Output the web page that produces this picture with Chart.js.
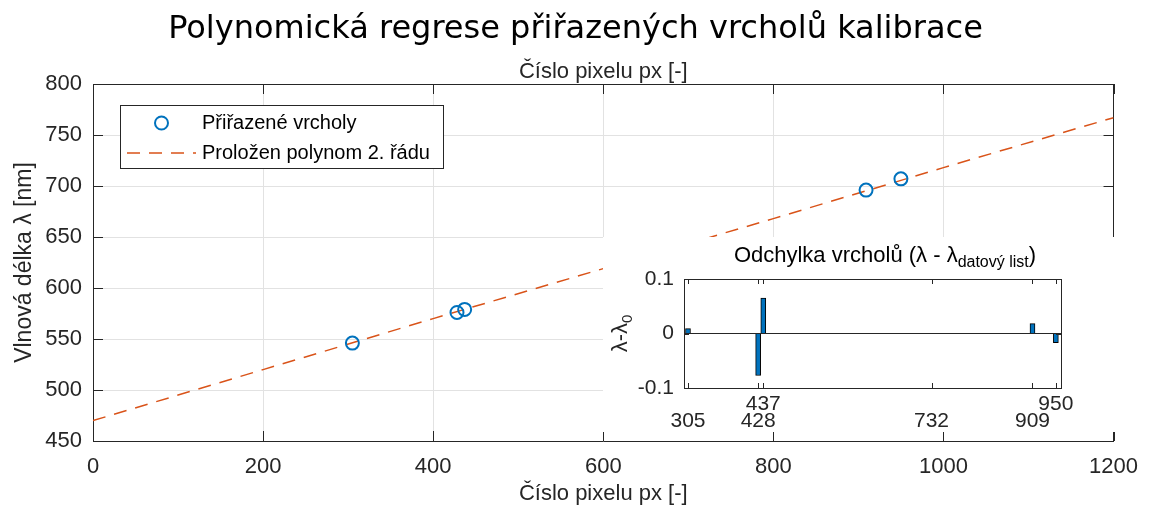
<!DOCTYPE html>
<html lang="cs">
<head>
<meta charset="utf-8">
<title>Polynomická regrese přiřazených vrcholů kalibrace</title>
<script src="https://cdn.jsdelivr.net/npm/chart.js@4.4.1/dist/chart.umd.min.js"></script>
<style>
  html, body { margin: 0; padding: 0; background: #fff; }
  #obal { position: relative; width: 1151px; height: 512px; overflow: hidden; }
  #graf { position: absolute; left: 0; top: 0; }
  #vlozeny { position: absolute; left: 603px; top: 237px; }
</style>
</head>
<body>
<div id="obal">
  <canvas id="graf" width="1151" height="512"></canvas>
  <canvas id="vlozeny" width="512" height="195"></canvas>
</div>
<script>
// Přiřazené vrcholy (pixel -> vlnová délka)
const peakPx = [305, 428, 437, 909, 950];
const peakNm = [546, 576, 579, 696, 707];

// Proložená křivka
const fitPx = [0, 200, 400, 600, 800, 1000, 1200];
const fitNm = [470, 520, 570, 619, 668, 718, 767];

// Odchylka vrcholů (lambda - lambda datový list)
const odchylka = [0.009, -0.077, 0.065, 0.018, -0.017];

// Popisky osy vloženého grafu
const insetTicks = [305, 428, 437, 732, 909, 950];
const insetTopRow = [437, 950];
const insetYTicks = [-0.1, 0, 0.1];

const FONT = '"Liberation Sans", Arial, Helvetica, sans-serif';
const AXIS = '#262626';
const MODRA = '#0072BD';
const ORANZ = '#D95319';
const MRIZKA = '#e2e2e2';

Chart.defaults.font.family = FONT;
Chart.defaults.color = AXIS;

// Dovnitř směřující značky jako v MATLABu
function drawInnerTicks(ctx, area, xs, ys, len) {
    ctx.beginPath();
    xs.ticks.forEach(t => {
        const px = Math.round(xs.getPixelForValue(t.value)) + 0.5;
        ctx.moveTo(px, area.bottom); ctx.lineTo(px, area.bottom - len);
        ctx.moveTo(px, area.top); ctx.lineTo(px, area.top + len);
    });
    ys.ticks.forEach(t => {
        const py = Math.round(ys.getPixelForValue(t.value)) + 0.5;
        ctx.moveTo(area.left, py); ctx.lineTo(area.left + len, py);
        ctx.moveTo(area.right, py); ctx.lineTo(area.right - len, py);
    });
    ctx.stroke();
}

const hlavniPlugin = {
    id: 'hlavniDoplnky',
    afterDraw(chart) {
        const ctx = chart.ctx;
        const a = chart.chartArea;
        ctx.save();
        ctx.strokeStyle = AXIS;
        ctx.lineWidth = 1;
        drawInnerTicks(ctx, a, chart.scales.x, chart.scales.y, 10);

        // legenda
        ctx.fillStyle = '#fff';
        ctx.fillRect(120.5, 105.5, 323, 63);
        ctx.strokeStyle = AXIS;
        ctx.strokeRect(120.5, 105.5, 323, 63);

        ctx.beginPath();
        ctx.strokeStyle = MODRA;
        ctx.lineWidth = 2;
        ctx.arc(161.5, 123, 6.5, 0, Math.PI * 2);
        ctx.stroke();

        ctx.beginPath();
        ctx.strokeStyle = ORANZ;
        ctx.lineWidth = 1.5;
        ctx.setLineDash([13, 9]);
        ctx.moveTo(127, 153);
        ctx.lineTo(196, 153);
        ctx.stroke();
        ctx.setLineDash([]);

        ctx.fillStyle = '#000';
        ctx.font = '20px ' + FONT;
        ctx.textBaseline = 'middle';
        ctx.textAlign = 'left';
        ctx.fillText(chart.data.datasets[0].label, 202, 123);
        ctx.fillText(chart.data.datasets[1].label, 202, 153);
        ctx.restore();
    }
};

const vlozenyPlugin = {
    id: 'vlozenyDoplnky',
    beforeDraw(chart) {
        const ctx = chart.ctx;
        ctx.save();
        ctx.fillStyle = '#fff';
        ctx.fillRect(0, 0, chart.width, chart.height);
        ctx.restore();
    },
    afterDraw(chart) {
        const ctx = chart.ctx;
        const a = chart.chartArea;
        ctx.save();
        ctx.strokeStyle = AXIS;
        ctx.lineWidth = 1;
        ctx.strokeRect(Math.round(a.left) + 0.5, Math.round(a.top) + 0.5,
            Math.round(a.right - a.left), Math.round(a.bottom - a.top));
        drawInnerTicks(ctx, a, chart.scales.x, chart.scales.y, 5);

        // nadpis s dolním indexem
        ctx.fillStyle = '#000';
        ctx.textBaseline = 'alphabetic';
        ctx.textAlign = 'left';
        const hlavni = 'Odchylka vrcholů (λ - λ';
        const index = 'datový list';
        const konec = ')';
        ctx.font = '22px ' + FONT;
        const w1 = ctx.measureText(hlavni).width;
        const w3 = ctx.measureText(konec).width;
        ctx.font = '16px ' + FONT;
        const w2 = ctx.measureText(index).width;
        let x = 282 - (w1 + w2 + w3) / 2;
        ctx.font = '22px ' + FONT;
        ctx.fillText(hlavni, x, 25);
        ctx.font = '16px ' + FONT;
        ctx.fillText(index, x + w1, 30);
        ctx.font = '22px ' + FONT;
        ctx.fillText(konec, x + w1 + w2, 25);

        // popisek osy y: λ-λ0
        ctx.translate(17, (a.top + a.bottom) / 2);
        ctx.rotate(-Math.PI / 2);
        ctx.fillStyle = AXIS;
        ctx.font = '22px ' + FONT;
        const l1 = 'λ-λ';
        const lw1 = ctx.measureText(l1).width;
        ctx.font = '15px ' + FONT;
        const lw2 = ctx.measureText('0').width;
        const lx = -(lw1 + lw2) / 2;
        ctx.font = '22px ' + FONT;
        ctx.fillText(l1, lx, 7);
        ctx.font = '15px ' + FONT;
        ctx.fillText('0', lx + lw1, 12);
        ctx.restore();
    }
};

const hlavniGraf = new Chart(document.getElementById('graf'), {
    type: 'scatter',
    data: {
        datasets: [
            {
                label: 'Přiřazené vrcholy',
                data: peakPx.map((x, i) => ({ x: x, y: peakNm[i] })),
                xAxisID: 'x', yAxisID: 'y',
                pointStyle: 'circle',
                pointRadius: 6.5,
                pointBorderWidth: 2,
                borderColor: MODRA,
                backgroundColor: 'rgba(0,0,0,0)',
                order: 1
            },
            {
                type: 'line',
                label: 'Proložen polynom 2. řádu',
                data: fitPx.map((x, i) => ({ x: x, y: fitNm[i] })),
                xAxisID: 'x', yAxisID: 'y',
                borderColor: ORANZ,
                borderWidth: 1.5,
                borderDash: [13, 9],
                pointRadius: 0,
                fill: false,
                order: 2
            }
        ]
    },
    options: {
        responsive: false,
        animation: false,
        devicePixelRatio: 1,
        locale: 'en-US',
        layout: { padding: 0 },
        plugins: {
            legend: { display: false },
            tooltip: { enabled: false },
            title: {
                display: true,
                text: 'Polynomická regrese přiřazených vrcholů kalibrace',
                font: { family: '"DejaVu Sans", sans-serif', size: 32, weight: 'normal' },
                color: '#000',
                padding: { top: 10, bottom: 0 }
            }
        },
        scales: {
            x: {
                type: 'linear', position: 'bottom', min: 0, max: 1200,
                ticks: { stepSize: 200, padding: 13, maxRotation: 0, autoSkip: false,
                    font: { size: 22 }, callback: v => String(v) },
                grid: { color: MRIZKA, drawTicks: false },
                border: { color: AXIS },
                title: { display: true, text: 'Číslo pixelu px [-]', font: { size: 22 },
                    padding: { top: 0, bottom: 5 } },
                afterFit: s => { s.height = 71; }
            },
            x2: {
                type: 'linear', position: 'top', min: 0, max: 1200,
                ticks: { display: false },
                grid: { drawOnChartArea: false, drawTicks: false },
                border: { color: AXIS },
                title: { display: true, text: 'Číslo pixelu px [-]', font: { size: 22 },
                    padding: { top: 10, bottom: 0 } },
                afterFit: s => { s.height = 35.6; }
            },
            y: {
                type: 'linear', position: 'left', min: 450, max: 800,
                ticks: { stepSize: 50, padding: 11, font: { size: 22 }, callback: v => String(v) },
                grid: { color: MRIZKA, drawTicks: false },
                border: { color: AXIS },
                title: { display: true, text: 'Vlnová délka λ [nm]', font: { size: 23 },
                    padding: { top: 11, bottom: 0 } },
                afterFit: s => { s.width = 93; }
            },
            y2: {
                type: 'linear', position: 'right', min: 450, max: 800,
                ticks: { display: false },
                grid: { drawOnChartArea: false, drawTicks: false },
                border: { color: AXIS },
                afterFit: s => { s.width = 36; }
            }
        }
    },
    plugins: [hlavniPlugin]
});

const vlozenyGraf = new Chart(document.getElementById('vlozeny'), {
    type: 'bar',
    data: {
        datasets: [{
            label: 'Odchylka',
            data: peakPx.map((x, i) => ({ x: x, y: odchylka[i] })),
            backgroundColor: MODRA,
            borderColor: '#000',
            borderWidth: 1,
            barThickness: 5
        }]
    },
    options: {
        responsive: false,
        animation: false,
        devicePixelRatio: 1,
        locale: 'en-US',
        layout: { padding: { top: 42, right: 54, left: 0, bottom: 0 } },
        plugins: { legend: { display: false }, tooltip: { enabled: false } },
        scales: {
            x: {
                type: 'linear', min: 298, max: 959, offset: false,
                afterBuildTicks: s => { s.ticks = insetTicks.map(v => ({ value: v })); },
                ticks: {
                    autoSkip: false, maxRotation: 0, minRotation: 0, padding: 0,
                    font: { size: 21, lineHeight: '17px' },
                    callback: v => insetTopRow.includes(v) ? [String(v), ''] : ['', String(v)]
                },
                grid: { display: false, offset: false },
                border: { display: false },
                afterFit: s => { s.height = 44; }
            },
            y: {
                min: -0.1, max: 0.1,
                afterBuildTicks: s => { s.ticks = insetYTicks.map(v => ({ value: v })); },
                ticks: { padding: 10, font: { size: 21 }, callback: v => String(v) },
                grid: {
                    drawTicks: false,
                    color: c => (c.tick && c.tick.value === 0) ? AXIS : 'rgba(0,0,0,0)'
                },
                border: { display: false },
                afterFit: s => { s.width = 81; }
            }
        }
    },
    plugins: [vlozenyPlugin]
});

console.log('Grafy vykresleny', hlavniGraf.chartArea, vlozenyGraf.chartArea);
</script>
</body>
</html>
